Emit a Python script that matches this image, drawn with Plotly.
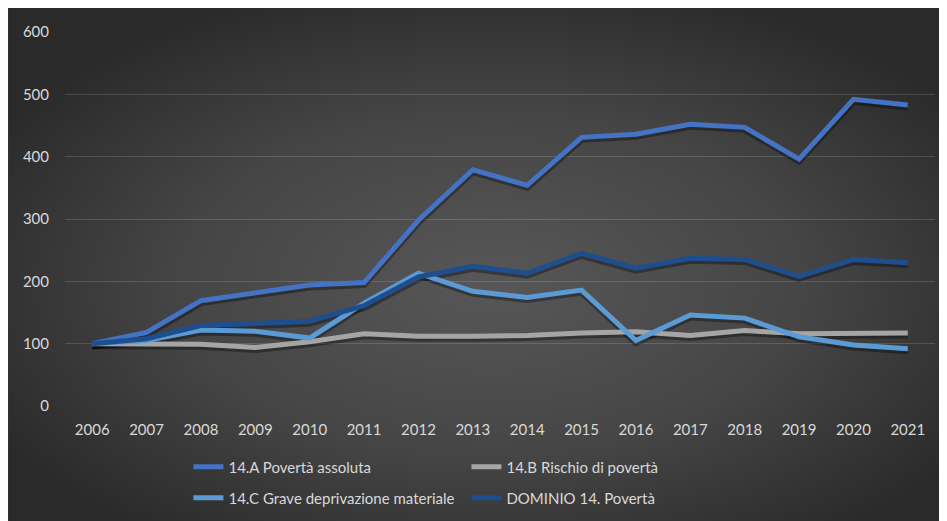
import base64
import plotly.graph_objects as go

years = [str(y) for y in range(2006, 2022)]
poverta_assoluta = [100, 118, 169, 182, 194, 198, 298, 379, 354, 431, 436, 452, 447, 396, 492, 483]
rischio_poverta = [100, 99, 99, 94, 103, 116, 112, 112, 113, 117, 119, 113, 121, 116, 117, 117]
grave_deprivazione = [100, 105, 122, 120, 109, 165, 213, 184, 174, 186, 105, 146, 141, 111, 98, 92]
dominio_poverta = [100, 108, 129, 132, 136, 161, 207, 224, 213, 245, 221, 237, 235, 208, 235, 230]

names = ["14.A Povertà assoluta", "14.B Rischio di povertà",
         "14.C Grave deprivazione materiale", "DOMINIO 14. Povertà"]
series = [poverta_assoluta, rischio_poverta, grave_deprivazione, dominio_poverta]
colors = ["#4472C4", "#A5A5A5", "#5B9BD5", "#1F4E8F"]
legends = ["legend", "legend", "legend2", "legend2"]
y_ticks = [0, 100, 200, 300, 400, 500, 600]

W, H = 947, 521
L, R, T, B = 56.5, 20, 24, 123
pw, ph = W - L - R, H - T - B

svg = (
    '<svg xmlns="http://www.w3.org/2000/svg" width="947" height="521" viewBox="0 0 947 521" preserveAspectRatio="none">'
    '<defs><radialGradient id="g" cx="51%" cy="53%" r="60%">'
    '<stop offset="0" stop-color="#575757"/><stop offset="0.55" stop-color="#454545"/>'
    '<stop offset="1" stop-color="#2a2a2a"/></radialGradient></defs>'
    '<rect width="947" height="521" fill="url(#g)"/></svg>'
)
src = "data:image/svg+xml;base64," + base64.b64encode(svg.encode()).decode()

fig = go.Figure()

# soft drop shadows (primary axis, shifted range -> drawn ~2px lower)
for s in series:
    fig.add_trace(go.Scatter(x=years, y=s, mode="lines", yaxis="y",
                             line=dict(color="rgba(0,0,0,0.35)", width=7),
                             showlegend=False, hoverinfo="skip"))

for n, s, c, lg in zip(names, series, colors, legends):
    fig.add_trace(go.Scatter(x=years, y=s, mode="lines", name=n, legend=lg, yaxis="y2",
                             line=dict(color=c, width=5)))

x0 = -L / pw
x1 = (W - L) / pw
y_top = (H - B) / ph
y_bot = -B / ph

font = dict(family="Lato, 'Open Sans', sans-serif", size=15, color="#d9d9d9")

leg_x = (180 - L) / pw

fig.update_layout(
    width=W, height=H,
    margin=dict(l=L, r=R, t=T, b=B),
    paper_bgcolor="#333333",
    plot_bgcolor="rgba(0,0,0,0)",
    font=font,
    images=[dict(source=src, xref="paper", yref="paper", x=x0, y=y_top,
                 sizex=x1 - x0, sizey=y_top - y_bot, sizing="stretch",
                 xanchor="left", yanchor="top", layer="below")],
    xaxis=dict(type="category", range=[-0.5, 15.5], showgrid=False, zeroline=False,
               showline=False, ticks="", ticklabelstandoff=13, tickfont=font),
    yaxis=dict(range=[3.2, 603.2], showgrid=False, zeroline=False, showline=False,
               showticklabels=False, ticks=""),
    yaxis2=dict(range=[0, 600], overlaying="y", side="left", tickvals=y_ticks, showgrid=True,
                gridcolor="rgba(255,255,255,0.14)", gridwidth=1, zeroline=False,
                showline=False, ticks="", ticklabelstandoff=15, tickfont=font),
    legend=dict(orientation="h", x=leg_x, y=(H - B - 459) / ph,
                xanchor="left", yanchor="middle", bgcolor="rgba(0,0,0,0)",
                entrywidth=233, font=font),
    legend2=dict(orientation="h", x=leg_x, y=(H - B - 490) / ph,
                 xanchor="left", yanchor="middle", bgcolor="rgba(0,0,0,0)",
                 entrywidth=233, font=font),
    showlegend=True,
)

fig.write_html("out.html", config={"displayModeBar": False})
